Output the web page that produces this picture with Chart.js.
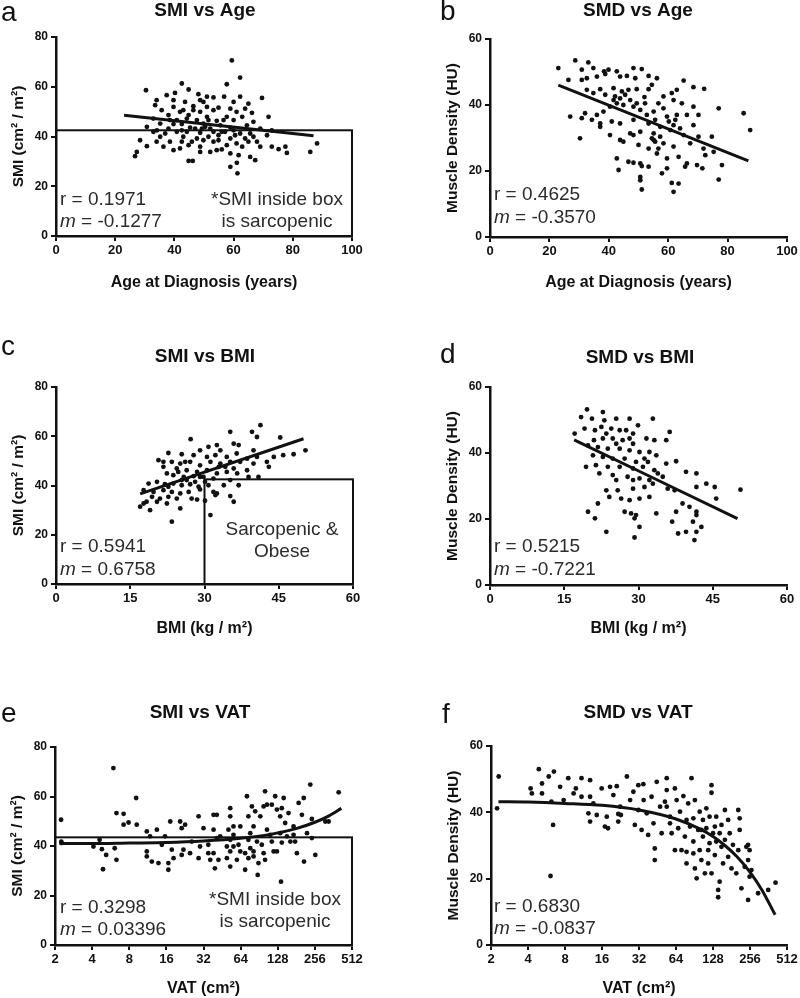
<!DOCTYPE html>
<html lang="en">
<head>
<meta charset="UTF-8">
<title>SMI / SMD scatter panels</title>
<script src="https://cdn.jsdelivr.net/npm/chart.js"></script>
<style>
  body { margin: 0; background: #fff; }
  #wrap { position: relative; width: 800px; height: 998px; overflow: hidden; }
  canvas { position: absolute; }
</style>
</head>
<body>
<div id="wrap">
  <canvas id="pa" width="400" height="300" style="left:0;top:0"></canvas>
  <canvas id="pb" width="400" height="300" style="left:400px;top:0"></canvas>
  <canvas id="pc" width="400" height="316" style="left:0;top:330px"></canvas>
  <canvas id="pd" width="400" height="316" style="left:400px;top:330px"></canvas>
  <canvas id="pe" width="400" height="338" style="left:0;top:660px"></canvas>
  <canvas id="pf" width="400" height="338" style="left:400px;top:660px"></canvas>
</div>
<script>
// ---- data ----
// (a) SMI vs age
const ageA = [59.4,62.2,42.5,57.7,30.4,44.8,40.2,37.4,69.6,48.1,51.0,53.2,56.8,62.2,34.0,43.6,48.7,60.0,65.0,33.5,
  39.7,46.4,51.0,54.9,58.9,63.9,35.7,41.9,48.7,53.2,61.0,66.2,38.0,44.8,51.0,57.7,62.9,71.8,32.9,40.8,
  47.6,54.3,60.0,66.7,35.2,42.5,49.8,55.5,64.5,30.7,38.0,45.3,52.1,58.9,69.0,72.9,32.9,40.8,48.7,56.0,
  62.2,35.2,43.0,51.5,58.9,66.7,71.3,28.4,38.5,45.9,53.2,61.0,65.0,30.7,36.3,41.9,48.7,56.0,62.9,69.0,
  72.9,77.5,75.2,78.0,85.9,88.2,27.3,26.7,52.1,58.9,61.7,65.6,67.3,44.8,46.2,61.1,58.9,61.3,
  39.7,44.2,47.0,49.3,50.4,53.2,54.9,57.1,60.0,60.5,44.2,47.6,49.8,54.9,36.9,34.1,43.0,46.4,49.8,39.7,
  65.6,63.9,67.9,54.3,48.7,39.7,34.0,42.5,57.7,44.8,51.5,56.6,42.5,38.5];
const smiA = [70.6,63.7,61.3,61.0,58.6,58.9,57.5,56.6,55.5,57.0,56.0,55.7,56.0,56.0,54.6,53.9,54.6,53.9,53.2,52.6,
  51.9,52.2,51.9,51.6,51.2,51.2,50.6,49.9,49.9,50.6,49.9,49.5,48.6,48.6,47.9,47.9,47.9,47.9,47.2,46.6,
  46.6,46.3,46.6,45.9,45.2,45.0,45.2,44.5,44.5,43.9,43.2,43.6,43.2,43.6,43.2,42.5,41.9,41.9,41.5,41.9,
  41.2,39.9,39.9,39.9,39.2,39.9,40.5,38.5,37.9,37.9,37.9,37.2,37.9,36.1,35.9,35.2,35.9,34.8,35.9,35.9,
  35.9,35.9,34.9,33.4,33.8,37.2,33.8,32.1,33.8,33.2,32.5,31.8,30.5,30.2,30.2,29.4,27.8,25.2,
  45.0,47.2,43.2,43.2,43.9,41.9,40.5,41.9,42.5,40.5,41.9,39.2,38.5,38.5,41.2,42.5,50.6,50.6,53.9,54.6,
  41.2,39.2,37.9,34.5,33.8,34.5,37.9,37.9,36.5,36.5,46.6,46.6,42.5,46.6];
const fitAx = [23, 87], fitAy = [48.5, 40.3];

// (b) SMD vs age
const ageB = [23.0,28.7,33.1,30.9,34.8,38.4,39.9,42.7,48.3,51.1,26.4,30.9,32.6,36.0,38.8,43.8,46.1,48.9,53.4,56.2,
  65.2,68.5,72.1,32.6,37.1,41.6,44.4,46.6,49.4,54.5,53.4,34.8,38.8,42.1,45.5,52.0,58.4,61.2,62.9,61.8,
  64.6,68.5,77.0,85.4,87.6,27.0,32.0,36.0,38.2,40.4,42.7,44.9,48.3,50.6,55.1,58.4,52.8,59.6,62.9,66.3,
  70.2,30.9,34.3,37.1,41.0,43.8,48.3,53.4,57.3,61.8,64.0,68.5,30.3,37.1,40.4,48.3,50.6,55.1,65.2,70.2,
  74.7,44.9,50.0,53.4,55.6,56.7,58.4,61.8,67.4,71.9,75.3,72.5,42.7,46.6,48.3,50.6,53.4,56.2,59.6,63.5,
  66.3,69.7,71.5,78.1,43.3,51.1,59.6,65.7,50.6,57.9,77.0,50.6,61.2,63.5,61.8,51.1,43.8,54.5,47.2,
  41.6,43.8,47.2,49.4,52.2,56.7,55.6,60.2,62.4,60.7,55.1,57.3];
const smdB = [51.2,53.5,52.9,50.7,51.2,50.2,50.7,50.2,51.2,50.9,47.6,47.6,48.1,48.6,49.4,48.6,48.8,48.1,48.8,48.1,
  47.4,45.4,44.9,44.6,44.8,45.1,44.1,44.6,44.8,46.1,44.8,43.6,43.1,42.6,43.1,42.4,42.6,43.6,44.6,41.5,
  40.5,39.5,39.0,37.5,32.4,36.5,37.5,37.0,38.0,39.5,40.5,40.0,39.5,38.5,38.0,39.0,37.0,36.5,37.0,37.0,
  37.0,36.0,35.5,34.4,35.0,34.4,35.5,34.4,33.4,33.9,32.9,33.9,29.9,33.4,30.9,30.9,31.9,31.4,30.9,30.4,
  30.4,28.9,27.9,26.8,28.9,26.8,28.4,27.4,28.4,26.8,25.8,24.8,23.8,22.8,22.5,22.3,21.3,25.3,23.8,24.3,
  22.3,21.8,20.8,21.8,20.3,21.5,20.8,21.3,18.2,19.3,17.4,17.2,16.4,16.2,13.7,14.4,29.4,29.9,31.4,
  41.5,42.0,41.5,40.5,40.5,40.5,35.5,35.0,35.5,32.4,29.4,30.4];
const fitBx = [23, 87], fitBy = [46, 23.1];

// (c) SMI vs BMI
const bmiC = [41.3,35.2,27.2,40.6,45.3,39.6,50.4,45.9,48.0,35.9,36.9,32.5,33.2,30.8,29.1,22.7,25.4,27.8,30.5,32.2,
  34.5,36.5,38.6,40.6,42.6,44.0,43.0,39.9,37.2,35.2,33.2,31.2,29.1,27.1,25.1,23.4,21.7,20.7,21.7,24.4,
  26.4,28.5,30.5,32.5,34.5,36.6,38.6,40.9,38.9,22.4,23.7,25.8,27.8,29.8,31.8,35.2,18.7,20.4,22.0,23.7,
  25.4,27.1,28.8,30.8,33.9,36.9,17.7,19.7,21.7,23.4,25.1,26.8,29.1,32.5,19.4,21.0,22.7,24.4,27.4,28.5,
  31.8,32.2,18.3,20.4,22.4,30.1,17.0,19.0,25.1,35.2,35.9,31.2,23.4,17.7,
  26.4,28.1,30.1,25.4,32.9,34.2,26.1,24.7,29.1,35.9,39.9,22.7];
const smiC = [64.5,61.8,58.8,59.7,59.5,61.8,54.3,52.3,52.7,57.0,56.4,56.4,54.3,55.7,54.3,53.2,52.7,52.3,51.6,52.3,
  51.6,53.0,50.9,51.6,49.6,51.6,47.6,48.9,49.6,49.6,48.9,49.6,48.2,49.6,48.9,49.6,49.6,50.3,47.6,46.9,
  46.2,45.5,46.2,44.9,45.5,44.9,46.2,43.5,43.5,44.9,44.2,43.5,43.8,43.5,42.8,42.2,40.8,41.5,40.5,40.8,
  40.1,40.5,39.5,40.1,40.1,40.1,38.1,37.4,38.1,37.4,36.8,37.4,38.4,36.8,35.4,34.7,35.4,34.7,34.7,34.3,
  37.4,36.1,33.4,33.4,32.7,33.8,31.4,30.0,30.7,35.7,33.4,28.0,25.3,32.7,
  42.2,41.5,41.5,42.2,47.6,47.6,49.6,45.5,43.5,46.9,54.3,39.5];
const fitCx = [17, 50], fitCy = [36.6, 59];

// (d) SMD vs BMI
const bmiD = [19.6,22.8,18.4,20.6,23.1,25.5,28.2,29.9,32.9,17.1,19.1,21.2,22.5,24.5,26.2,27.5,28.9,31.6,33.2,35.6,
  36.3,21.0,22.8,24.8,26.8,28.9,19.8,21.8,23.8,26.2,28.2,30.2,32.2,20.8,22.8,24.8,27.2,29.5,31.9,37.6,
  19.4,21.4,23.8,26.2,28.9,30.9,33.2,35.6,39.6,41.7,22.1,24.8,27.8,30.2,32.2,34.9,35.9,37.3,41.7,43.7,
  45.4,50.6,31.2,32.9,28.9,25.8,23.5,24.1,26.5,28.2,30.2,32.2,45.7,21.8,38.9,40.3,27.2,28.5,29.5,33.6,
  37.6,41.7,41.7,19.8,21.2,29.2,36.8,41.0,23.5,30.2,38.0,39.6,42.7,41.7,41.3,29.2,
  23.5,25.5,28.2,31.2,33.6,33.9,28.9,25.5];
const smdD = [53.2,52.4,50.9,50.4,49.9,50.4,50.4,48.4,50.4,45.9,47.4,46.9,47.9,47.4,46.9,46.9,45.9,44.4,43.9,43.9,
  46.4,43.9,44.4,44.4,43.9,42.8,42.3,41.8,41.3,41.3,40.8,40.3,40.3,39.3,38.8,38.3,38.3,37.3,37.3,37.5,
  35.8,36.3,35.8,35.8,35.3,35.8,34.8,36.8,34.3,33.8,33.8,33.3,32.8,32.3,31.8,32.8,29.2,28.7,29.7,30.7,
  29.7,28.9,29.7,30.7,29.2,28.7,28.7,26.7,26.2,25.7,26.2,26.7,26.2,24.7,24.7,23.7,22.2,21.7,21.2,21.7,
  22.2,22.2,21.2,22.2,20.2,20.2,19.2,19.2,16.1,17.6,15.6,16.1,17.6,16.1,13.6,14.4,
  45.9,42.8,44.4,38.3,39.3,33.8,31.8,31.8];
const fitDx = [17, 50], fitDy = [44, 20.1];

// (e) SMI vs VAT
const vatE = [2.24,2.25,2.25,5.95,9.1,6.3,7.2,7.9,9.2,7.2,4.1,4.8,5.2,6.1,6.3,4.9,4.6,11.1,11.8,13.4,
  11.1,11.1,12.2,13.8,14.7,15.6,16.6,16.6,17.2,17.7,18.3,20.7,21.3,22.7,22.0,25.7,24.9,21.3,29.2,30.0,
  35.0,35.0,29.2,38.6,41.0,38.6,41.0,38.6,36.3,39.6,42.3,32.0,52.7,52.7,51.0,52.7,49.5,52.7,49.5,52.7,
  56.0,63.6,61.5,63.6,59.7,69.6,72.0,74.0,79.0,81.5,74.0,76.6,69.6,74.0,81.5,86.8,89.3,98.3,101,88.0,
  92.4,98.3,104.7,114.6,101,104.7,111.4,114.6,118.6,126,122,126,138,134,143,134,138,147,156.5,172,
  172,189,177,183,201,208,209,221,242,235,258,242,311,331,399,136,56.0,43.7,56.0,76.6,
  84,152,95,81.5,162];
const smiE = [50.6,41.8,41.2,71.5,59.4,53.3,53.0,49.5,48.6,48.6,39.8,38.7,36.4,39.1,34.4,30.6,42.5,45.9,43.9,46.6,
  37.8,35.8,33.7,33.1,40.5,43.9,33.1,30.4,49.9,38.5,35.1,49.9,47.2,48.6,38.5,41.8,37.1,36.4,52.0,39.8,
  40.5,37.1,35.1,52.6,52.6,46.6,43.2,37.1,34.4,31.0,34.4,47.2,55.3,52.0,46.6,42.5,39.8,37.8,35.1,31.7,
  44.5,47.9,40.5,37.8,34.4,30.4,60.1,52.0,56.0,47.9,42.5,39.1,37.1,35.1,35.8,41.8,33.1,37.1,34.4,28.3,
  52.0,56.0,56.7,56.7,62.1,46.6,44.5,41.8,37.8,37.8,60.1,54.7,55.3,52.0,59.4,45.2,41.4,49.3,53.3,47.9,
  44.5,57.4,41.8,37.1,52.6,59.4,33.7,45.2,50.9,64.8,36.4,43.2,49.9,49.9,61.7,25.6,47.9,43.9,39.8,45.2,
  54.0,43.9,40.5,37.8,41.8];
const fitEx = [2.3,4,8,16,32,64,100,128,180,256,330,420];
const fitEy = [41.0,41.0,41.2,41.4,42.0,43.1,44.3,45.3,47.0,49.6,52.1,55.2];

// (f) SMD vs VAT
const vatF = [2.31,2.24,4.9,4.2,4.3,5.2,5.2,5.9,6.5,6.2,6.4,6.1,7.3,7.8,8.5,9.4,9.8,10.9,10.9,12.8,
  12.8,12.4,12.8,13.6,14.5,15.9,16.9,17.5,17.9,18.6,19.8,21.1,21.7,22.5,21.7,22.8,25.5,27.1,28.8,29.6,
  31.6,31.6,33.6,34.7,34.9,37,38,42,43,43,40.5,44.6,47.5,48.9,52,53.8,53.8,53.8,57.2,57.2,
  59,62.7,62.7,64.8,66.7,69,71,73.5,75.6,78,78,80.4,85.6,83.2,88.6,88.6,91.2,91.2,94.2,97,
  99.7,99.7,103,106,106,110,113,113,117,117,120,120,124.5,124.5,124.5,128,132.5,132.5,136,141,
  141,145,145,150,150,154.5,160,160,170,170,175,181,186,198,205.5,205.5,211,211,218,232,
  239,247,254,247,263,298,360,413,247,254,78,88.6,103,136];
const smdF = [50.8,41.2,53.0,47.2,45.7,48.7,45.7,50.8,52.3,43.2,36.2,20.8,47.7,43.7,50.3,45.7,47.2,50.3,44.7,49.7,
  44.7,39.7,37.2,42.7,39.2,47.2,35.7,38.7,35.2,47.7,45.2,47.9,39.5,41.7,37.2,39.2,50.8,43.7,46.2,36.2,
  48.2,40.7,34.7,48.5,43.7,39.7,33.2,36.7,29.1,25.6,44.7,49.2,41.7,33.7,43.2,50.3,46.7,41.7,38.7,36.7,
  33.7,28.6,47.2,43.7,35.2,40.2,28.6,44.9,32.7,37.7,24.6,42.7,50.3,35.7,38.2,31.2,23.1,43.7,20.1,34.7,
  28.6,40.2,25.6,32.7,37.7,21.6,35.2,41.2,28.6,24.6,30.7,38.7,48.2,45.9,21.6,33.7,35.7,27.1,31.2,16.6,
  14.4,19.1,33.7,36.2,29.6,24.6,40.7,31.7,37.7,26.6,33.7,23.1,30.2,21.6,40.7,28.6,34.7,38.2,17.1,23.6,
  29.6,13.6,20.6,30.2,22.6,15.6,16.6,18.8,25.6,28.6,28.1,27.6,34.7,38.7];
const fitFx = [2.3,4,8,16,32,64,100,128,160,200,256,320,410];
const fitFy = [43.2,43.1,42.7,42.1,40.7,38.0,35.0,32.7,30.0,26.7,22.0,16.6,9.1];

// tick labels
const ageTicks = [0, 20, 40, 60, 80, 100];
const bmiTicks = [0, 15, 30, 45, 60];
const vatTicks = [2, 4, 8, 16, 32, 64, 128, 256, 512];

// sarcopenia boxes [xMin, xMax, yMin, yMax]
const boxA = [0, 100, 0, 42.5];
const boxC = [30, 60, 0, 42.5];
const boxE = [2, 512, 0, 43.5];

const FONT = '"Liberation Sans", Arial, sans-serif';

function pairs(xs, ys) {
  return xs.map((x, i) => ({ x: x, y: ys[i] }));
}

// draws the box, panel letter, title and the r / m notes
const panelDecor = {
  id: 'panelDecor',
  beforeDatasetsDraw(chart, args, o) {
    if (!o.box) return;
    const ctx = chart.ctx, sx = chart.scales.x, sy = chart.scales.y;
    const x0 = sx.getPixelForValue(o.box[0]), x1 = sx.getPixelForValue(o.box[1]);
    const y0 = sy.getPixelForValue(o.box[2]), y1 = sy.getPixelForValue(o.box[3]);
    ctx.save();
    ctx.strokeStyle = '#111';
    ctx.lineWidth = 2;
    ctx.strokeRect(x0, y1, x1 - x0, y0 - y1);
    ctx.restore();
  },
  afterDraw(chart, args, o) {
    const ctx = chart.ctx;
    ctx.save();
    ctx.fillStyle = '#111';
    ctx.textBaseline = 'alphabetic';
    ctx.textAlign = 'left';
    ctx.font = '28px ' + FONT;
    ctx.fillText(o.letter, o.letterPos[0], o.letterPos[1]);

    ctx.textBaseline = 'middle';
    ctx.textAlign = 'center';
    ctx.font = 'bold 19px ' + FONT;
    ctx.fillText(o.title, o.titlePos[0], o.titlePos[1]);

    ctx.fillStyle = '#2b2b2b';
    ctx.textAlign = 'left';
    ctx.font = '19px ' + FONT;
    ctx.fillText('r = ' + o.r, o.rPos[0], o.rPos[1]);
    ctx.font = 'italic 19px ' + FONT;
    ctx.fillText('m', o.rPos[0], o.rPos[1] + o.mGap);
    const mw = ctx.measureText('m').width;
    ctx.font = '19px ' + FONT;
    ctx.fillText(' = ' + o.m, o.rPos[0] + mw, o.rPos[1] + o.mGap);

    ctx.textAlign = 'center';
    (o.notes || []).forEach(n => ctx.fillText(n.text, n.x, n.y));
    ctx.restore();
  }
};

function buildPanel(id, o) {
  const cv = document.getElementById(id);
  const W = cv.width, H = cv.height;
  const [L, R, T, B] = o.area;
  const tickFont = { family: FONT, weight: 'bold', size: 13 };
  const axisCommon = {
    grid: { display: true, drawOnChartArea: false, drawTicks: true, tickLength: 5, color: '#111', lineWidth: 2 },
    border: { display: true, color: '#111', width: 2.5 },
  };
  const xScale = Object.assign({}, axisCommon, {
    type: o.log ? 'logarithmic' : 'linear',
    position: 'bottom',
    min: o.xTicks[0],
    max: o.xTicks[o.xTicks.length - 1],
    afterBuildTicks: s => { s.ticks = o.xTicks.map(v => ({ value: v })); },
    afterFit: s => { s.height = H - B; },
    ticks: { font: tickFont, color: '#111', autoSkip: false, maxRotation: 0, padding: 2,
             callback: v => String(v) },
    title: { display: true, text: o.xTitle, font: { family: FONT, weight: 'bold', size: 16 }, color: '#111',
             padding: { top: 0, bottom: o.xTitlePad } }
  });
  const yTicks = [];
  for (let v = 0; v <= o.yMax; v += 20) yTicks.push(v);
  const yScale = Object.assign({}, axisCommon, {
    type: 'linear',
    position: 'left',
    min: 0,
    max: o.yMax,
    afterBuildTicks: s => { s.ticks = yTicks.map(v => ({ value: v })); },
    afterFit: s => { s.width = 56; },
    ticks: { font: { family: FONT, weight: 'bold', size: 12 }, color: '#111', padding: 3 },
    title: { display: true, text: o.yTitle, font: { family: FONT, weight: 'bold', size: 15.5 }, color: '#111',
             padding: { top: 9, bottom: 0 } }
  });

  new Chart(cv, {
    data: {
      datasets: [
        { type: 'line', data: pairs(o.fitX, o.fitY), borderColor: '#111', borderWidth: 3,
          pointRadius: 0, fill: false, cubicInterpolationMode: 'monotone', order: 0 },
        { type: 'scatter', data: pairs(o.xs, o.ys), pointRadius: 2.4, pointBackgroundColor: '#111',
          pointBorderWidth: 0, order: 1 }
      ]
    },
    options: {
      responsive: false,
      animation: false,
      layout: { padding: { left: L - 56, right: W - R, top: T, bottom: 0 } },
      plugins: {
        legend: { display: false },
        tooltip: { enabled: false },
        panelDecor: o.decor
      },
      scales: { x: xScale, y: yScale }
    },
    plugins: [panelDecor]
  });
}

buildPanel('pa', {
  area: [56, 352, 37, 236], xs: ageA, ys: smiA, fitX: fitAx, fitY: fitAy,
  xTicks: ageTicks, yMax: 80, xTitlePad: 8,
  xTitle: 'Age at Diagnosis (years)', yTitle: 'SMI (cm\u00B2 / m\u00B2)',
  decor: { letter: 'a', letterPos: [1, 21], title: 'SMI vs Age', titlePos: [205, 11],
           r: '0.1971', m: '-0.1277', rPos: [60, 200], mGap: 22, box: boxA,
           notes: [{ text: '*SMI inside box', x: 277, y: 200 }, { text: 'is sarcopenic', x: 277, y: 222 }] }
});

buildPanel('pb', {
  area: [90, 387, 39, 237], xs: ageB, ys: smdB, fitX: fitBx, fitY: fitBy,
  xTicks: ageTicks, yMax: 60, xTitlePad: 8,
  xTitle: 'Age at Diagnosis (years)', yTitle: 'Muscle Density (HU)',
  decor: { letter: 'b', letterPos: [40, 20], title: 'SMD vs Age', titlePos: [238, 11],
           r: '0.4625', m: '-0.3570', rPos: [94, 195], mGap: 23 }
});

buildPanel('pc', {
  area: [56, 353, 57, 254], xs: bmiC, ys: smiC, fitX: fitCx, fitY: fitCy,
  xTicks: bmiTicks, yMax: 80, xTitlePad: 8,
  xTitle: 'BMI (kg / m\u00B2)', yTitle: 'SMI (cm\u00B2 / m\u00B2)',
  decor: { letter: 'c', letterPos: [1, 25], title: 'SMI vs BMI', titlePos: [205, 27],
           r: '0.5941', m: '0.6758', rPos: [60, 217], mGap: 23, box: boxC,
           notes: [{ text: 'Sarcopenic &', x: 282, y: 200 }, { text: 'Obese', x: 282, y: 222 }] }
});

buildPanel('pd', {
  area: [90, 387, 57, 255], xs: bmiD, ys: smdD, fitX: fitDx, fitY: fitDy,
  xTicks: bmiTicks, yMax: 60, xTitlePad: 8,
  xTitle: 'BMI (kg / m\u00B2)', yTitle: 'Muscle Density (HU)',
  decor: { letter: 'd', letterPos: [40, 33], title: 'SMD vs BMI', titlePos: [240, 28],
           r: '0.5215', m: '-0.7221', rPos: [94, 217], mGap: 23 }
});

buildPanel('pe', {
  area: [55, 352, 87, 285], xs: vatE, ys: smiE, fitX: fitEx, fitY: fitEy, log: true,
  xTicks: vatTicks, yMax: 80, xTitlePad: 0,
  xTitle: 'VAT (cm\u00B2)', yTitle: 'SMI (cm\u00B2 / m\u00B2)',
  decor: { letter: 'e', letterPos: [1, 62], title: 'SMI vs VAT', titlePos: [200, 53],
           r: '0.3298', m: '0.03396', rPos: [60, 248], mGap: 22, box: boxE,
           notes: [{ text: '*SMI inside box', x: 275, y: 240 }, { text: 'is sarcopenic', x: 275, y: 262 }] }
});

buildPanel('pf', {
  area: [91, 387, 86, 285], xs: vatF, ys: smdF, fitX: fitFx, fitY: fitFy, log: true,
  xTicks: vatTicks, yMax: 60, xTitlePad: 0,
  xTitle: 'VAT (cm\u00B2)', yTitle: 'Muscle Density (HU)',
  decor: { letter: 'f', letterPos: [42, 63], title: 'SMD vs VAT', titlePos: [238, 53],
           r: '0.6830', m: '-0.0837', rPos: [94, 247], mGap: 22 }
});
</script>
</body>
</html>
